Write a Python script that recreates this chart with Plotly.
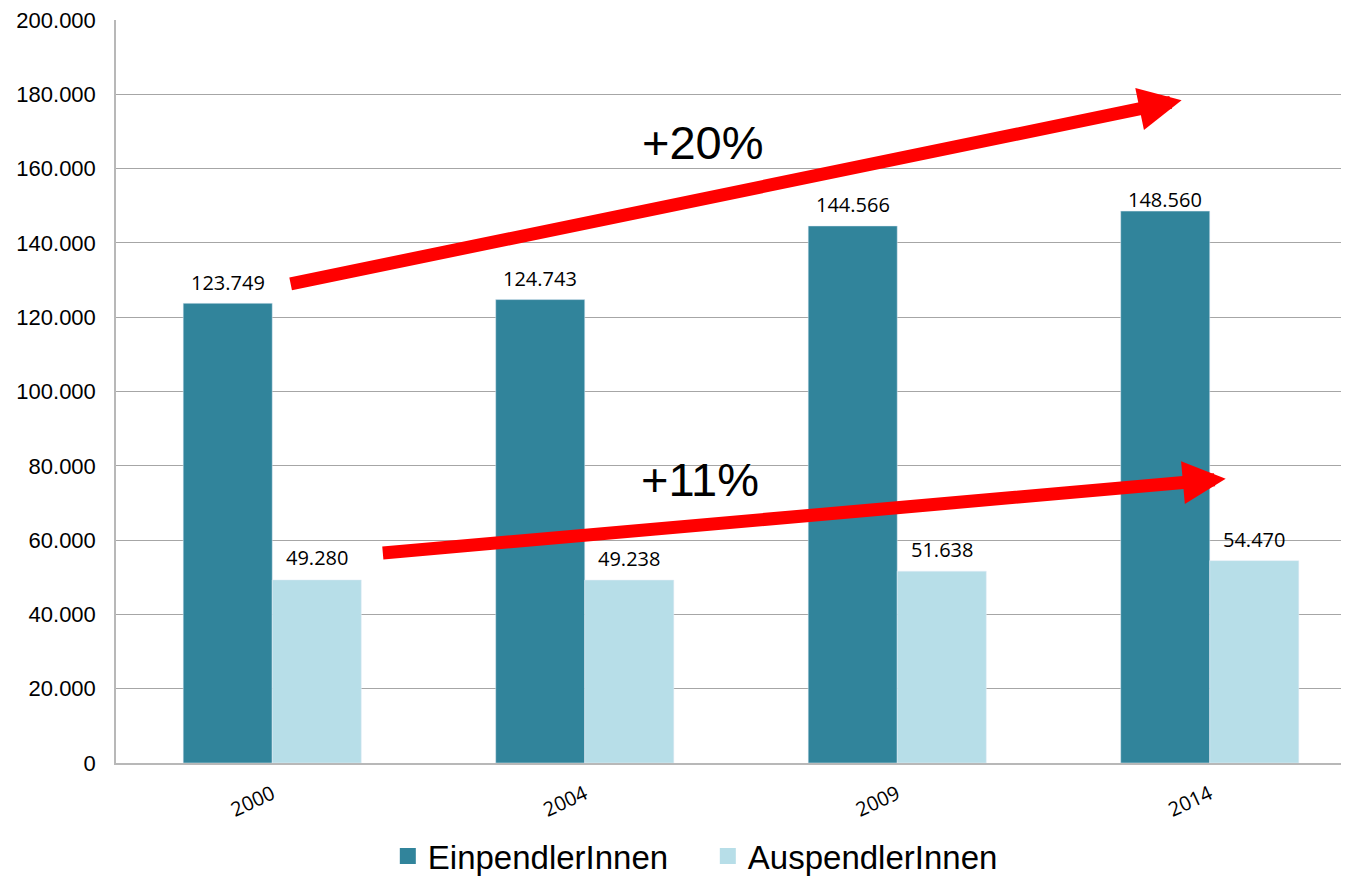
import plotly.graph_objects as go

years = ["2000", "2004", "2009", "2014"]
einpendler = [123749, 124743, 144566, 148560]
auspendler = [49280, 49238, 51638, 54470]
y_ticks = [0, 20000, 40000, 60000, 80000, 100000, 120000, 140000, 160000, 180000, 200000]

# label offsets (px above bar top) — style only
ein_label_shift = [21, 21, 21, 12]
aus_label_shift = [22, 22, 22, 21]

COL_EIN = "#31849B"
COL_AUS = "#B7DEE8"
LABEL_FONT = dict(family="Open Sans, Noto Sans", size=20, color="black")


def de(v):
    return f"{v:,}".replace(",", ".")


xpos = list(range(len(years)))
BARGAP = 0.43
bar_w = (1 - BARGAP) / 2
off = bar_w / 2

fig = go.Figure()
fig.add_trace(go.Bar(x=xpos, y=einpendler, name="EinpendlerInnen", marker_color=COL_EIN,
                     showlegend=False))
fig.add_trace(go.Bar(x=xpos, y=auspendler, name="AuspendlerInnen", marker_color=COL_AUS,
                     showlegend=False))
# legend proxies (bigger square symbols)
fig.add_trace(go.Scatter(x=[None], y=[None], mode="markers", name="EinpendlerInnen",
                         marker=dict(symbol="square", size=16, color=COL_EIN)))
fig.add_trace(go.Scatter(x=[None], y=[None], mode="markers", name="AuspendlerInnen",
                         marker=dict(symbol="square", size=16, color=COL_AUS)))

# data labels
for i, v in enumerate(einpendler):
    fig.add_annotation(x=xpos[i] - off, y=v, xref="x", yref="y", text=de(v), showarrow=False,
                       yanchor="middle", yshift=ein_label_shift[i], font=LABEL_FONT)
for i, v in enumerate(auspendler):
    fig.add_annotation(x=xpos[i] + off, y=v, xref="x", yref="y", text=de(v), showarrow=False,
                       yanchor="middle", yshift=aus_label_shift[i], font=LABEL_FONT)

# growth arrows (annotations in axis coordinates)
arrows = [
    dict(tail=(0.054, 128900), tip=(2.910, 178400), label="+20%", lab=(1.378, 166900)),
    dict(tail=(0.349, 56500), tip=(3.051, 76500), label="+11%", lab=(1.369, 76200)),
]
for a in arrows:
    fig.add_annotation(x=a["tip"][0], y=a["tip"][1], ax=a["tail"][0], ay=a["tail"][1],
                       xref="x", yref="y", axref="x", ayref="y", showarrow=True,
                       arrowhead=2, arrowsize=0.66, arrowwidth=13, arrowcolor="#FF0000",
                       standoff=0, startstandoff=0, text="")
    fig.add_annotation(x=a["lab"][0], y=a["lab"][1], xref="x", yref="y", text=a["label"],
                       showarrow=False, font=dict(family="Arial, Liberation Sans", size=47, color="black"))

fig.update_layout(
    width=1351, height=876,
    margin=dict(l=108, r=18, t=12, b=121),
    paper_bgcolor="white", plot_bgcolor="white",
    barmode="group", bargap=BARGAP, bargroupgap=0,
    showlegend=True,
    legend=dict(orientation="h", xref="container", yref="container",
                x=0.518, xanchor="center", y=0.032, yanchor="middle",
                entrywidth=275,
                font=dict(family="Arial, Liberation Sans", size=33, color="black"),
                itemclick=False),
    xaxis=dict(range=[-0.5, 3.42], tickmode="array", tickvals=xpos, ticktext=years,
               tickangle=-25, tickfont=dict(family="Open Sans, Noto Sans", size=20, color="black"),
               showline=True, linecolor="#b8b8b8", linewidth=1.5, showgrid=False, ticks="",
               ticklabelstandoff=10, automargin=False, ticklabeloverflow="allow"),
    yaxis=dict(range=[0, 200000], tickmode="array", tickvals=y_ticks, ticktext=[de(v) for v in y_ticks],
               tickfont=dict(family="Arial, Liberation Sans", size=22, color="black"),
               showline=True, linecolor="#b8b8b8", linewidth=1.5, showgrid=True, gridcolor="#a6a6a6",
               gridwidth=1, zeroline=False, ticks="", ticklabelstandoff=14, automargin=False,
               ticklabeloverflow="allow"),
)

fig.write_html("out.html")
